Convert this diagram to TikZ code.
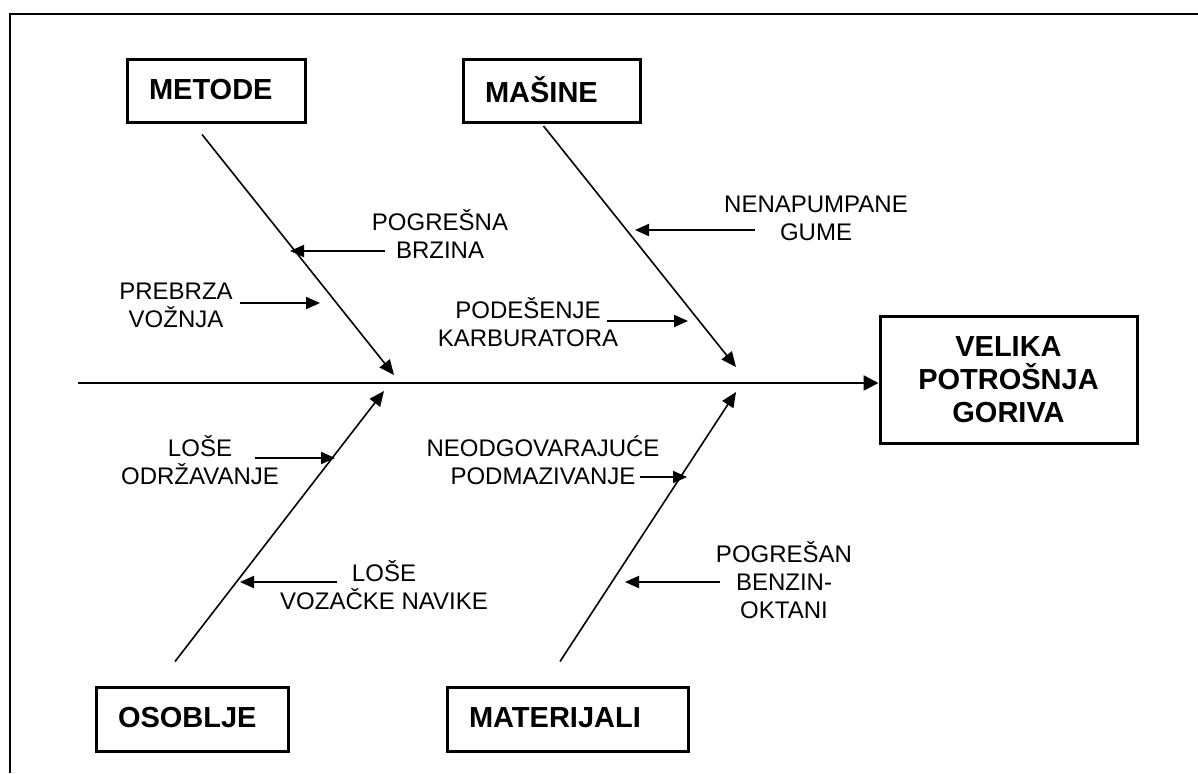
\documentclass[tikz,border=0pt]{standalone}
\usepackage{fontspec}
\setmainfont{Liberation Sans}
\usetikzlibrary{arrows.meta, calc}
\newcommand{\natpis}{\fontsize{12}{14}\selectfont}
\newcommand{\kategorija}{\fontsize{14.5}{16.5}\selectfont\bfseries}

\begin{document}
\begin{tikzpicture}[x=0.5pt, y=-0.5pt,
			kutija/.style={draw, line width=1.5pt, font=\kategorija, inner xsep=11pt,
			               align=left, minimum height=31.5pt, text depth=1.5pt},
			opis/.style={font=\natpis, align=center, inner sep=0pt},
			kost/.style={-{Triangle[length=7.5pt, width=6.5pt]}, line width=0.8pt},
			strelica/.style={-{Triangle[length=7pt, width=6pt]}, line width=1pt},
			kicma/.style={-{Triangle[length=7.5pt, width=7.5pt]}, line width=1.2pt}]
			\useasboundingbox (0,0) rectangle (1198,773);
			\draw[line width=1pt] (10,773) -- (10,14) -- (1198,14);
			% uzroci i posljedica
			\node[kutija, text width=67pt] (metode) at (216,90.5) {METODE};
			\node[kutija, text width=66.5pt] (masine) at (551.5,91) {MAŠINE};
			\node[kutija, text width=74pt, minimum height=32pt] (osoblje) at (192,719) {OSOBLJE};
			\node[kutija, text width=98.5pt, minimum height=32pt] (materijali) at (567.5,719) {MATERIJALI};
			\node[draw, line width=1.5pt, font=\kategorija, align=center,
			      minimum width=128.5pt, minimum height=63.5pt] (posljedica) at (1008.5,379.5)
				{VELIKA\\ POTROŠNJA\\ GORIVA};
			% kicma
			\coordinate (rep) at (78,383);
			\draw[kicma] (rep) -- (rep -| posljedica.west);
			% kosti
			\coordinate (s1) at (394,375);
			\coordinate (s2) at (736,367);
			\coordinate (s3) at (384,391);
			\coordinate (s4) at (736,392);
			\draw[kost] ([xshift=-7pt, yshift=-5.5pt]metode.south) -- (s1);
			\draw[kost] ([xshift=-4pt, yshift=-1pt]masine.south) -- (s2);
			\draw[kost] ([xshift=-8.5pt, yshift=12pt]osoblje.north) -- (s3);
			\draw[kost] ([xshift=-3.75pt, yshift=12pt]materijali.north) -- (s4);
			% opisi
			\node[opis] (pogresna) at (440,234) {POGREŠNA\\ BRZINA};
			\node[opis] (prebrza) at (176,305) {PREBRZA\\ VOŽNJA};
			\node[opis] (nenapumpane) at (816,218) {NENAPUMPANE\\ GUME};
			\node[opis] (podesenje) at (528,322) {PODEŠENJE\\ KARBURATORA};
			\node[opis] (loseodr) at (200,460) {LOŠE\\ ODRŽAVANJE};
			\node[opis] (neodg) at (543,460) {NEODGOVARAJUĆE\\ PODMAZIVANJE};
			\node[opis] (losevoz) at (384,585) {LOŠE\\ VOZAČKE NAVIKE};
			\node[opis] (pogresan) at (784,580) {POGREŠAN\\ BENZIN-\\ OKTANI};
			% strelice
			\coordinate (k1) at (290,251);
			\coordinate (k2) at (320,303);
			\coordinate (k3) at (635,230);
			\coordinate (k4) at (688,321);
			\coordinate (k5) at (335,458);
			\coordinate (k6) at (687,477);
			\coordinate (k7) at (240,582);
			\coordinate (k8) at (625,582);
			\draw[strelica] ([xshift=6.5pt, yshift=-8.5pt]pogresna.west) -- (k1);
			\draw[strelica] ([xshift=3.5pt, yshift=1pt]prebrza.east) -- (k2);
			\draw[strelica] ([xshift=15.5pt, yshift=-6pt]nenapumpane.west) -- (k3);
			\draw[strelica] ([xshift=-6pt, yshift=0.5pt]podesenje.east) -- (k4);
			\draw[strelica] ([xshift=-12pt, yshift=1pt]loseodr.east) -- (k5);
			\draw[strelica] ([xshift=-10pt, yshift=-8.5pt]neodg.east) -- (k6);
			\draw[strelica] ([xshift=28.5pt, yshift=1.5pt]losevoz.west) -- (k7);
			\draw[strelica] ([xshift=2pt, yshift=-1pt]pogresan.west) -- (k8);
		\end{tikzpicture}
\end{document}
